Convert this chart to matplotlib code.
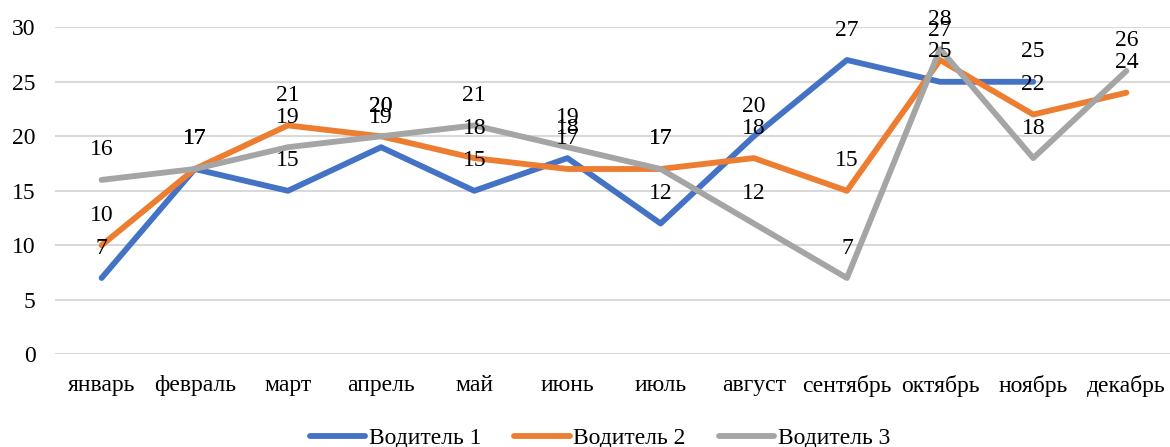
import numpy as np
import matplotlib
matplotlib.use("Agg")
import matplotlib.pyplot as plt

months = ["январь", "февраль", "март", "апрель", "май", "июнь",
          "июль", "август", "сентябрь", "октябрь", "ноябрь", "декабрь"]
driver1 = [7, 17, 15, 19, 15, 18, 12, 20, 27, 25, 25, np.nan]
driver2 = [10, 17, 21, 20, 18, 17, 17, 18, 15, 27, 22, 24]
driver3 = [16, 17, 19, 20, 21, 19, 17, 12, 7, 28, 18, 26]
series_names = ["Водитель 1", "Водитель 2", "Водитель 3"]
colors = ["#4472C4", "#ED7D31", "#A5A5A5"]
yticks = [0, 5, 10, 15, 20, 25, 30]

plt.rcParams['font.family'] = ['Liberation Serif', 'DejaVu Serif']
FS = 17

fig = plt.figure(figsize=(11.7, 4.47), dpi=100)
ax = fig.add_axes([55/1170, 1 - 354.3/447, (1173 - 55)/1170, (354.3 - 27.3)/447])

x = np.arange(len(months))
all_series = [driver1, driver2, driver3]
for i, (vals, name, c) in enumerate(zip(all_series, series_names, colors)):
    ax.plot(x, vals, color=c, lw=4.2, label=name, zorder=2 + i,
            solid_capstyle='round', solid_joinstyle='round')

for vals in all_series:
    for xi, v in zip(x, vals):
        if not np.isnan(v):
            ax.annotate(f"{int(v)}", (xi, v), xytext=(0, 21.6),
                        textcoords='offset points', ha='center', va='center',
                        fontsize=FS, color='black', zorder=10)

ax.set_xlim(-0.5, len(months) - 0.5)
ax.set_ylim(0, 30)
ax.set_yticks(yticks)
ax.set_xticks(x)
ax.set_xticklabels(months)
ax.tick_params(axis='both', length=0, labelsize=FS, colors='black')
ax.tick_params(axis='y', pad=14)
ax.tick_params(axis='x', pad=15)
ax.grid(axis='y', color='#D9D9D9', lw=1.5)
ax.set_axisbelow(True)
for s in ax.spines.values():
    s.set_visible(False)

leg = fig.legend(loc='center', bbox_to_anchor=(600/1170, 1 - 438/447), ncol=3,
                 frameon=False, fontsize=FS, handlelength=2.35,
                 handletextpad=0.15, columnspacing=1.4)

fig.savefig("out.png", dpi=100)
